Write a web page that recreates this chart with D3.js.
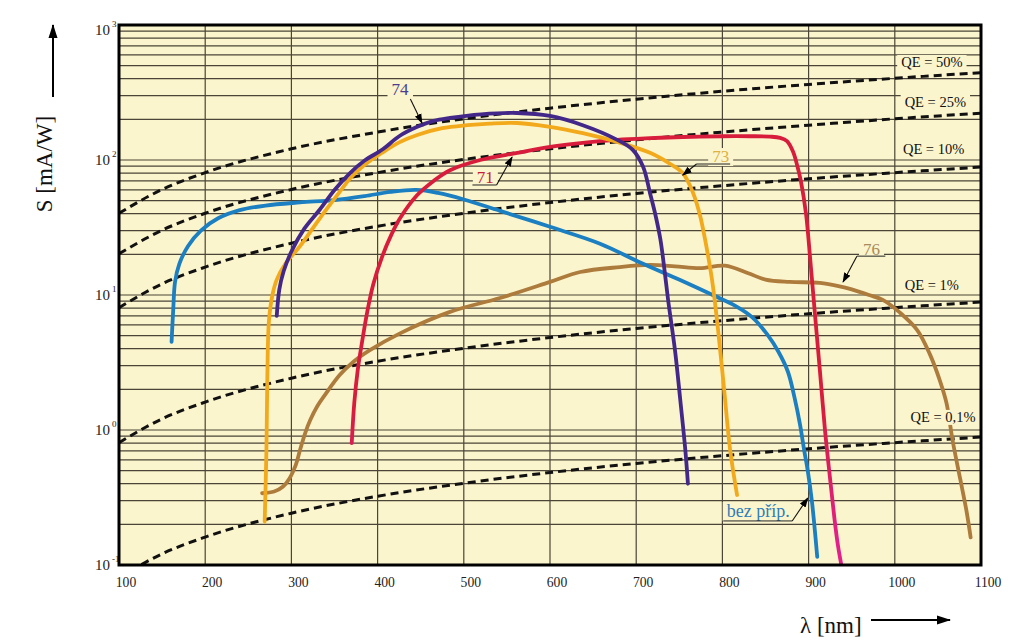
<!DOCTYPE html>
<html lang="en">
<head>
<meta charset="UTF-8">
<title>Spektrální citlivost fotokatod</title>
<script src="https://d3js.org/d3.v7.min.js"></script>
<style>
  body { margin: 0; background: #fff; }
  text { font-family: "Liberation Serif", "Times New Roman", serif; }
</style>
</head>
<body>
<svg width="1024" height="644"></svg>
<script>
// axis ticks
const xTicks = [100, 200, 300, 400, 500, 600, 700, 800, 900, 1000, 1100];
const yExps = [-1, 0, 1, 2, 3];

// QE = const lines, read at these wavelengths [nm] -> S [mA/W]
const qeNm = [100, 150, 200, 300, 400, 500, 600, 700, 800, 900, 1000, 1100];
const qe50 = [40.3, 60.5, 80.6, 121, 161, 202, 242, 282, 323, 363, 403, 444];
const qe25 = [20.2, 30.2, 40.3, 60.5, 80.6, 101, 121, 141, 161, 181, 202, 222];
const qe10 = [8.06, 12.1, 16.1, 24.2, 32.3, 40.3, 48.4, 56.5, 64.5, 72.6, 80.6, 88.7];
const qe1 = [0.806, 1.21, 1.61, 2.42, 3.23, 4.03, 4.84, 5.65, 6.45, 7.26, 8.06, 8.87];
const qe01 = [0.0806, 0.121, 0.161, 0.242, 0.323, 0.403, 0.484, 0.565, 0.645, 0.726, 0.806, 0.887];
const qeNames = ["QE = 50%", "QE = 25%", "QE = 10%", "QE = 1%", "QE = 0,1%"];

// photocathode curves [nm, mA/W]
const bezPrip = [[161, 4.5], [163, 8], [165, 12.5], [170, 17], [180, 23], [195, 30], [215, 37], [240, 42.5],
  [270, 46], [310, 48.5], [350, 50.5], [385, 54], [415, 58], [445, 60], [470, 57], [500, 51], [542, 42],
  [600, 32], [658, 24], [704, 17.5], [751, 12.9], [790, 9.9], [815, 8.3], [835, 6.8], [852, 5.1],
  [865, 3.8], [876, 2.7], [884, 1.7], [890, 1.1], [895, 0.7], [899, 0.5], [904, 0.29], [910, 0.115]];
const k74 = [[283, 7], [286, 11], [291, 15], [300, 21], [315, 31], [333, 43], [350, 60], [368, 80],
  [385, 99], [406, 120], [425, 150], [446, 176], [465, 195], [484, 205], [520, 218], [562, 223],
  [600, 212], [638, 181], [678, 141], [696, 119], [708, 89], [716, 57], [722, 40], [728, 26],
  [733, 15], [737, 9.2], [745, 3.9], [751, 1.7], [757, 0.71], [760, 0.4]];
const k73 = [[269, 0.21], [271, 0.7], [272, 2.3], [274, 6.5], [278, 10], [283, 13], [293, 17], [310, 23],
  [333, 37], [356, 58], [368, 73], [385, 92], [406, 114], [425, 135], [446, 153], [475, 172], [504, 181],
  [530, 186], [562, 188], [600, 176], [638, 158], [678, 136], [716, 113], [740, 93], [754, 80],
  [766, 57], [774, 39], [780, 25.6], [788, 12.9], [795, 5.5], [802, 2.0], [809, 0.71], [817, 0.33]];
const k71 = [[370, 0.8], [373, 1.6], [377, 2.8], [382, 4.5], [388, 7.5], [395, 12], [405, 19], [416, 28],
  [426, 37], [446, 55], [465, 70], [484, 84], [519, 100], [562, 113], [600, 125], [638, 134], [678, 141],
  [716, 145], [754, 148], [800, 150], [832, 150], [855, 149], [867, 146], [875, 138], [882, 115],
  [887, 90], [891, 70], [897, 40], [902, 18], [907, 7.7], [913, 2.8], [919, 1.0], [925, 0.43],
  [930, 0.22], [934, 0.14], [938, 0.1]];
const k76 = [[266, 0.34], [280, 0.35], [290, 0.38], [298, 0.44], [305, 0.55], [310, 0.71], [316, 0.95],
  [322, 1.19], [330, 1.5], [339, 1.82], [356, 2.55], [372, 3.2], [391, 3.9], [426, 5.2], [484, 7.5],
  [542, 9.5], [600, 12.5], [635, 14.8], [681, 16.1], [716, 16.7], [745, 16.3], [774, 15.8], [803, 16.5],
  [830, 14.5], [850, 13], [878, 12.5], [913, 12.3], [936, 11.6], [950, 11], [970, 10], [986, 9.2],
  [1006, 7.4], [1026, 5.5], [1041, 3.6], [1052, 2.35], [1060, 1.58], [1067, 0.84], [1076, 0.43],
  [1083, 0.255], [1088, 0.16]];

const svg = d3.select("svg");
const x = d3.scaleLinear().domain([100, 1100]).range([119, 981]);
const y = d3.scaleLog().domain([0.1, 1000]).range([565, 25]);
const cream = "#fbf5cd";

const defs = svg.append("defs");
defs.append("clipPath").attr("id", "plot")
  .append("rect").attr("x", x(100)).attr("y", y(1000))
  .attr("width", x(1100) - x(100)).attr("height", y(0.1) - y(1000));

defs.append("marker").attr("id", "tip").attr("viewBox", "0 -4 10 8")
  .attr("refX", 9).attr("refY", 0).attr("markerWidth", 10).attr("markerHeight", 8)
  .attr("markerUnits", "userSpaceOnUse").attr("orient", "auto")
  .append("path").attr("d", "M0,-3.5L10,0L0,3.5Z").attr("fill", "#000");

defs.append("marker").attr("id", "bigtip").attr("viewBox", "0 -5 14 10")
  .attr("refX", 13).attr("refY", 0).attr("markerWidth", 14).attr("markerHeight", 10)
  .attr("markerUnits", "userSpaceOnUse").attr("orient", "auto")
  .append("path").attr("d", "M0,-4.5L14,0L0,4.5Z").attr("fill", "#000");

// red curve turns magenta at the bottom
const grad = defs.append("linearGradient").attr("id", "redgrad")
  .attr("gradientUnits", "userSpaceOnUse")
  .attr("x1", 0).attr("x2", 0).attr("y1", y(1.5)).attr("y2", y(0.15));
grad.append("stop").attr("offset", 0).attr("stop-color", "#d81c3c");
grad.append("stop").attr("offset", 1).attr("stop-color", "#e2208a");

svg.append("rect").attr("x", x(100)).attr("y", y(1000))
  .attr("width", x(1100) - x(100)).attr("height", y(0.1) - y(1000))
  .attr("fill", cream);

// grid
const grid = svg.append("g").attr("stroke", "#4a4536").attr("stroke-width", 1.2);
grid.selectAll(".gv").data(xTicks.slice(1, -1)).join("line")
  .attr("x1", d => x(d)).attr("x2", d => x(d))
  .attr("y1", y(1000)).attr("y2", y(0.1));
grid.selectAll(".gh").data(y.ticks().filter(v => v > 0.11 && v < 990)).join("line")
  .attr("x1", x(100)).attr("x2", x(1100))
  .attr("y1", d => y(d)).attr("y2", d => y(d));

const plot = svg.append("g").attr("clip-path", "url(#plot)");
const line = d3.line().x(d => x(d[0])).y(d => y(d[1])).curve(d3.curveMonotoneX);

// QE lines
const qeSeries = [qe50, qe25, qe10, qe1, qe01];
plot.selectAll(".qe").data(qeSeries).join("path")
  .attr("d", s => line(s.map((v, i) => [qeNm[i], v])))
  .attr("fill", "none").attr("stroke", "#111").attr("stroke-width", 3)
  .attr("stroke-dasharray", "8,5");

// photocathode curves
const curves = [
  { data: k76, color: "#ad7b3c" },
  { data: bezPrip, color: "#1b7fc1" },
  { data: k71, color: "url(#redgrad)" },
  { data: k73, color: "#f2a91b" },
  { data: k74, color: "#43288a" }
];
const smooth = d3.line().x(d => x(d[0])).y(d => y(d[1])).curve(d3.curveCatmullRom.alpha(0.5));
plot.selectAll(".curve").data(curves).join("path")
  .attr("d", c => smooth(c.data))
  .attr("fill", "none").attr("stroke", c => c.color).attr("stroke-width", 3.8)
  .attr("stroke-linejoin", "round").attr("stroke-linecap", "round");

// labelled text with a cream backing
function tag(g, tx, ty, str, opts) {
  const t = g.append("text").attr("x", tx).attr("y", ty)
    .attr("text-anchor", opts.anchor || "middle")
    .attr("font-size", opts.size).attr("fill", opts.color).text(str);
  const b = t.node().getBBox();
  g.insert("rect", "text").attr("x", b.x - 4).attr("y", b.y + 1)
    .attr("width", b.width + 8).attr("height", b.height - 1).attr("fill", cream);
}

// QE labels
const qeAt = [[1043, 532], [1047, 269], [1045, 120], [1043, 11.9], [1056, 1.25]];
qeNames.forEach((name, i) => {
  const g = svg.append("g");
  tag(g, x(qeAt[i][0]), y(qeAt[i][1]) + 5, name, { size: "14.5px", color: "#111" });
});

// curve labels with leaders
const notes = [
  { text: "74", color: "#4c3d8e", at: [426, 303], under: null, from: [438, 283], to: [451.5, 188] },
  { text: "71", color: "#c42035", at: [525, 67.6], under: [510, 538, 65.3], from: [538, 65.3], to: [556, 105] },
  { text: "73", color: "#e0b040", at: [798, 96.6], under: [770, 809, 93.4], from: [770, 93.4], to: [754, 77.4] },
  { text: "76", color: "#a88a5c", at: [973, 19.8], under: [956, 989, 19.4], from: [956, 19.4], to: [940, 12.5] },
  { text: "bez příp.", color: "#2e7db8", at: [805, 0.227], anchor: "start", under: [801, 881, 0.212], from: [881, 0.212], to: [899, 0.313] }
];
notes.forEach(n => {
  const g = svg.append("g");
  tag(g, x(n.at[0]), y(n.at[1]), n.text, { size: n.anchor ? "18px" : "17px", color: n.color, anchor: n.anchor });
  if (n.under) {
    g.append("line").attr("x1", x(n.under[0])).attr("x2", x(n.under[1]))
      .attr("y1", y(n.under[2])).attr("y2", y(n.under[2]))
      .attr("stroke", "#222").attr("stroke-width", 1);
  }
  g.append("line").attr("x1", x(n.from[0])).attr("y1", y(n.from[1]))
    .attr("x2", x(n.to[0])).attr("y2", y(n.to[1]))
    .attr("stroke", "#111").attr("stroke-width", 1.1).attr("marker-end", "url(#tip)");
});

// frame
svg.append("rect").attr("x", x(100)).attr("y", y(1000))
  .attr("width", x(1100) - x(100)).attr("height", y(0.1) - y(1000))
  .attr("fill", "none").attr("stroke", "#000").attr("stroke-width", 3);

// x tick labels
svg.append("g").selectAll("text").data(xTicks).join("text")
  .attr("transform", d => `translate(${x(d) + 7},587) scale(0.88,1)`)
  .attr("text-anchor", "middle").attr("font-size", "15.5px").attr("fill", "#222")
  .text(d => d);

// y tick labels 10^n
const yl = svg.append("g").selectAll("text").data(yExps).join("text")
  .attr("x", 95).attr("y", d => y(Math.pow(10, d)) + (d === 3 ? 10 : 5))
  .attr("font-size", "15px").attr("fill", "#222");
yl.append("tspan").text("10");
yl.append("tspan").attr("dx", 2).attr("dy", -8).attr("font-size", "9px").text(d => d);

// axis titles with arrows
svg.append("text").attr("transform", "translate(52,164) rotate(-90)")
  .attr("text-anchor", "middle").attr("font-size", "23px").attr("fill", "#111")
  .text("S [mA/W]");
svg.append("line").attr("x1", 53).attr("y1", 97).attr("x2", 53).attr("y2", 25)
  .attr("stroke", "#000").attr("stroke-width", 2).attr("marker-end", "url(#bigtip)");

svg.append("text").attr("x", 800).attr("y", 633)
  .attr("font-size", "23px").attr("fill", "#111").text("λ [nm]");
svg.append("line").attr("x1", 871).attr("y1", 620).attr("x2", 950).attr("y2", 620)
  .attr("stroke", "#000").attr("stroke-width", 2).attr("marker-end", "url(#bigtip)");
</script>
</body>
</html>
